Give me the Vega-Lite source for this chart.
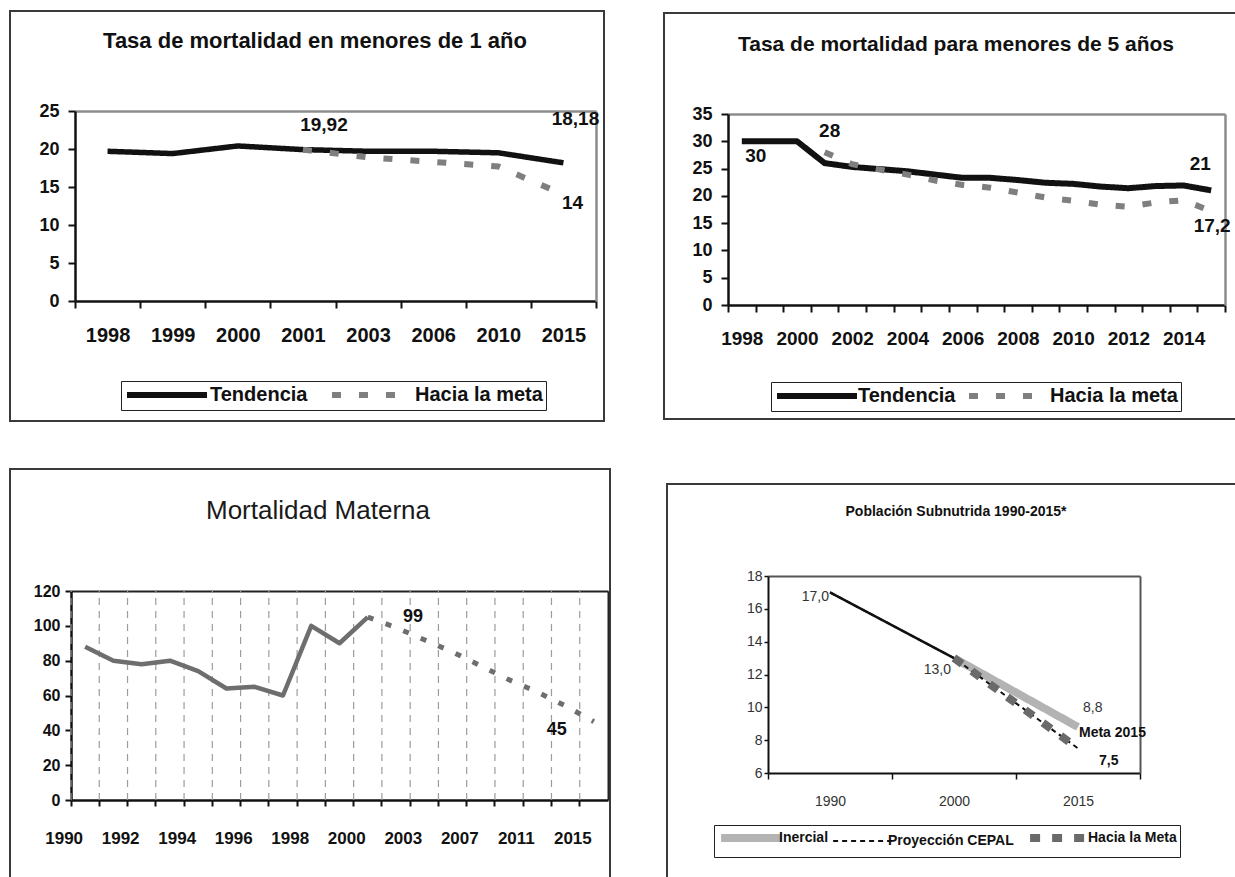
{
  "$schema": "https://vega.github.io/schema/vega-lite/v6.json",
  "background": "white",
  "padding": {"left": 9, "top": 10, "right": 0, "bottom": 0},
  "config": {"view": {"stroke": null}},
  "resolve": {"scale": {"color": "independent", "strokeDash": "independent", "strokeWidth": "independent"}, "legend": {"color": "independent", "strokeDash": "independent", "strokeWidth": "independent"}},
  "datasets": {
    "tmi": [
      {"anio": 1998, "serie": "Tendencia", "valor": 19.7},
      {"anio": 1999, "serie": "Tendencia", "valor": 19.4},
      {"anio": 2000, "serie": "Tendencia", "valor": 20.4},
      {"anio": 2001, "serie": "Tendencia", "valor": 19.92},
      {"anio": 2003, "serie": "Tendencia", "valor": 19.7},
      {"anio": 2006, "serie": "Tendencia", "valor": 19.7},
      {"anio": 2010, "serie": "Tendencia", "valor": 19.5},
      {"anio": 2015, "serie": "Tendencia", "valor": 18.18},
      {"anio": 2001, "serie": "Hacia la meta", "valor": 19.92},
      {"anio": 2003, "serie": "Hacia la meta", "valor": 18.9},
      {"anio": 2006, "serie": "Hacia la meta", "valor": 18.3},
      {"anio": 2010, "serie": "Hacia la meta", "valor": 17.7},
      {"anio": 2015, "serie": "Hacia la meta", "valor": 14}
    ],
    "tm5": [
      {"anio": 1998, "serie": "Tendencia", "valor": 30},
      {"anio": 1999, "serie": "Tendencia", "valor": 30},
      {"anio": 2000, "serie": "Tendencia", "valor": 30},
      {"anio": 2001, "serie": "Tendencia", "valor": 26},
      {"anio": 2002, "serie": "Tendencia", "valor": 25.3},
      {"anio": 2003, "serie": "Tendencia", "valor": 24.9},
      {"anio": 2004, "serie": "Tendencia", "valor": 24.5},
      {"anio": 2005, "serie": "Tendencia", "valor": 23.9},
      {"anio": 2006, "serie": "Tendencia", "valor": 23.3},
      {"anio": 2007, "serie": "Tendencia", "valor": 23.3},
      {"anio": 2008, "serie": "Tendencia", "valor": 22.9},
      {"anio": 2009, "serie": "Tendencia", "valor": 22.4},
      {"anio": 2010, "serie": "Tendencia", "valor": 22.2},
      {"anio": 2011, "serie": "Tendencia", "valor": 21.7},
      {"anio": 2012, "serie": "Tendencia", "valor": 21.4},
      {"anio": 2013, "serie": "Tendencia", "valor": 21.8},
      {"anio": 2014, "serie": "Tendencia", "valor": 21.9},
      {"anio": 2015, "serie": "Tendencia", "valor": 21},
      {"anio": 2001, "serie": "Hacia la meta", "valor": 28},
      {"anio": 2002, "serie": "Hacia la meta", "valor": 25.8},
      {"anio": 2003, "serie": "Hacia la meta", "valor": 24.8},
      {"anio": 2004, "serie": "Hacia la meta", "valor": 23.9},
      {"anio": 2005, "serie": "Hacia la meta", "valor": 22.8},
      {"anio": 2006, "serie": "Hacia la meta", "valor": 22},
      {"anio": 2007, "serie": "Hacia la meta", "valor": 21.5},
      {"anio": 2008, "serie": "Hacia la meta", "valor": 20.6},
      {"anio": 2009, "serie": "Hacia la meta", "valor": 19.7},
      {"anio": 2010, "serie": "Hacia la meta", "valor": 19.1},
      {"anio": 2011, "serie": "Hacia la meta", "valor": 18.4},
      {"anio": 2012, "serie": "Hacia la meta", "valor": 18},
      {"anio": 2013, "serie": "Hacia la meta", "valor": 18.8},
      {"anio": 2014, "serie": "Hacia la meta", "valor": 19.2},
      {"anio": 2015, "serie": "Hacia la meta", "valor": 17.2}
    ],
    "mm": [
      {"anio": 1990, "serie": "Observada", "valor": 88},
      {"anio": 1991, "serie": "Observada", "valor": 80},
      {"anio": 1992, "serie": "Observada", "valor": 78},
      {"anio": 1993, "serie": "Observada", "valor": 80},
      {"anio": 1994, "serie": "Observada", "valor": 74},
      {"anio": 1995, "serie": "Observada", "valor": 64},
      {"anio": 1996, "serie": "Observada", "valor": 65},
      {"anio": 1997, "serie": "Observada", "valor": 60},
      {"anio": 1998, "serie": "Observada", "valor": 100},
      {"anio": 1999, "serie": "Observada", "valor": 90},
      {"anio": 2000, "serie": "Observada", "valor": 105},
      {"anio": 2000, "serie": "Hacia la meta", "valor": 105},
      {"anio": 2001, "serie": "Hacia la meta", "valor": 99},
      {"anio": 2003, "serie": "Hacia la meta", "valor": 92},
      {"anio": 2005, "serie": "Hacia la meta", "valor": 85},
      {"anio": 2007, "serie": "Hacia la meta", "valor": 77},
      {"anio": 2009, "serie": "Hacia la meta", "valor": 69},
      {"anio": 2011, "serie": "Hacia la meta", "valor": 62},
      {"anio": 2013, "serie": "Hacia la meta", "valor": 54},
      {"anio": 2015, "serie": "Hacia la meta", "valor": 45}
    ],
    "sub": [
      {"anio": 2000, "serie": "Inercial", "valor": 13.0},
      {"anio": 2015, "serie": "Inercial", "valor": 8.8},
      {"anio": 1990, "serie": "Proyección CEPAL", "valor": 17.0},
      {"anio": 2000, "serie": "Proyección CEPAL", "valor": 13.0},
      {"anio": 2015, "serie": "Proyección CEPAL", "valor": 7.5},
      {"anio": 2000, "serie": "Hacia la Meta", "valor": 13.0},
      {"anio": 2015, "serie": "Hacia la Meta", "valor": 7.5}
    ]
  },
  "spacing": 46,
  "vconcat": [
    {
      "resolve": {"scale": {"color": "independent", "strokeDash": "independent", "strokeWidth": "independent"}, "legend": {"color": "independent", "strokeDash": "independent", "strokeWidth": "independent"}},
      "hconcat": [
        {
          "width": 594,
          "height": 410,
          "view": {"stroke": "#3a3a3a", "strokeWidth": 2},
          "title": {"text": "Tasa de mortalidad en menores de 1 año", "font": "Liberation Sans, Arial, sans-serif", "fontSize": 22, "fontWeight": "bold", "color": "#111", "baseline": "middle", "offset": -52, "dx": 8},
          "data": {"name": "tmi"},
          "resolve": {"axis": {"x": "independent", "y": "independent"}},
          "layer": [
            {
              "transform": [{"filter": "datum.serie == 'Tendencia'"}],
              "mark": {"type": "line", "strokeWidth": 5.5, "strokeJoin": "round"},
              "encoding": {
                "x": {"field": "anio", "type": "ordinal", "bandPosition": 0.5,
                  "scale": {"type": "band", "domain": [1998, 1999, 2000, 2001, 2003, 2006, 2010, 2015], "range": [65, 586], "paddingInner": 0, "paddingOuter": 0},
                  "axis": {"orient": "bottom", "offset": -120, "title": null, "tickBand": "extent", "grid": false, "domainColor": "#111", "domainWidth": 2.5, "tickColor": "#111", "tickWidth": 2, "tickSize": 7, "labelFont": "Liberation Sans, Arial, sans-serif", "labelFontSize": 20, "labelFontWeight": "bold", "labelColor": "#111", "labelPadding": 17, "labelAngle": 0}},
                "y": {"field": "valor", "type": "quantitative",
                  "scale": {"domain": [0, 25], "range": [290, 100], "nice": false, "zero": false},
                  "axis": {"orient": "left", "offset": -65, "title": null, "values": [0, 5, 10, 15, 20, 25], "grid": false, "domainColor": "#111", "domainWidth": 2.5, "tickColor": "#111", "tickWidth": 2, "tickSize": 7, "labelFont": "Liberation Sans, Arial, sans-serif", "labelFontSize": 18, "labelFontWeight": "bold", "labelColor": "#111", "labelPadding": 9}},
                "color": {"field": "serie", "type": "nominal",
                  "scale": {"domain": ["Tendencia", "Hacia la meta"], "range": ["#111111", "#7f7f7f"]},
                  "legend": {"orient": "none", "legendX": 111, "legendY": 370, "direction": "horizontal", "title": null, "strokeColor": "#222", "padding": 3, "symbolType": "M-1,0H9", "symbolSize": 256, "symbolStrokeWidth": 6, "labelFont": "Liberation Sans, Arial, sans-serif", "labelFontSize": 20, "labelFontWeight": "bold", "labelColor": "#111", "columnPadding": 12, "labelOffset": 64}},
                "strokeDash": {"field": "serie", "type": "nominal",
                  "scale": {"domain": ["Tendencia", "Hacia la meta"], "range": [[1, 0], [9, 18]]}}
              }
            },
            {
              "transform": [{"filter": "datum.serie == 'Hacia la meta'"}],
              "mark": {"type": "line", "strokeWidth": 6, "strokeCap": "butt"},
              "encoding": {
                "x": {"field": "anio", "type": "ordinal", "bandPosition": 0.5,
                  "axis": {"orient": "top", "offset": -100, "title": null, "ticks": false, "labels": false, "grid": false, "domainColor": "#8c8c8c", "domainWidth": 2.5}},
                "y": {"field": "valor", "type": "quantitative",
                  "axis": {"orient": "right", "offset": -8, "title": null, "ticks": false, "labels": false, "grid": false, "domainColor": "#8c8c8c", "domainWidth": 2.5}},
                "color": {"field": "serie", "type": "nominal"},
                "strokeDash": {"field": "serie", "type": "nominal"}
              }
            },
            {
              "data": {"values": [{}]},
              "mark": {"type": "text", "font": "Liberation Sans, Arial, sans-serif", "fontSize": 19, "fontWeight": "bold", "color": "#111", "dx": 21, "dy": -25, "baseline": "middle"},
              "encoding": {"x": {"datum": 2001, "type": "ordinal", "bandPosition": 0.5, "axis": null}, "y": {"datum": 19.92, "type": "quantitative", "axis": null}, "text": {"value": "19,92"}}
            },
            {
              "data": {"values": [{}]},
              "mark": {"type": "text", "font": "Liberation Sans, Arial, sans-serif", "fontSize": 19, "fontWeight": "bold", "color": "#111", "dx": 12, "dy": -44, "baseline": "middle"},
              "encoding": {"x": {"datum": 2015, "type": "ordinal", "bandPosition": 0.5, "axis": null}, "y": {"datum": 18.18, "type": "quantitative", "axis": null}, "text": {"value": "18,18"}}
            },
            {
              "data": {"values": [{}]},
              "mark": {"type": "text", "font": "Liberation Sans, Arial, sans-serif", "fontSize": 19, "fontWeight": "bold", "color": "#111", "dx": 9, "dy": 8, "baseline": "middle"},
              "encoding": {"x": {"datum": 2015, "type": "ordinal", "bandPosition": 0.5, "axis": null}, "y": {"datum": 14, "type": "quantitative", "axis": null}, "text": {"value": "14"}}
            }
          ]
        },
        {
          "width": 572,
          "height": 406,
          "view": {"stroke": "#3a3a3a", "strokeWidth": 2},
          "title": {"text": "Tasa de mortalidad para menores de 5 años", "font": "Liberation Sans, Arial, sans-serif", "fontSize": 21, "fontWeight": "bold", "color": "#111", "baseline": "middle", "offset": -53, "dx": 6},
          "data": {"name": "tm5"},
          "resolve": {"axis": {"x": "independent", "y": "independent"}},
          "layer": [
            {
              "transform": [{"filter": "datum.serie == 'Tendencia'"}],
              "mark": {"type": "line", "strokeWidth": 6, "strokeJoin": "round"},
              "encoding": {
                "x": {"field": "anio", "type": "ordinal", "bandPosition": 0.5,
                  "scale": {"type": "band", "domain": [1998, 1999, 2000, 2001, 2002, 2003, 2004, 2005, 2006, 2007, 2008, 2009, 2010, 2011, 2012, 2013, 2014, 2015], "range": [64, 561], "paddingInner": 0, "paddingOuter": 0},
                  "axis": {"orient": "bottom", "offset": -114, "title": null, "tickBand": "extent", "grid": false, "labelExpr": "datum.value % 2 == 0 ? datum.label : ''", "domainColor": "#111", "domainWidth": 2.5, "tickColor": "#111", "tickWidth": 2, "tickSize": 7, "labelFont": "Liberation Sans, Arial, sans-serif", "labelFontSize": 19, "labelFontWeight": "bold", "labelColor": "#111", "labelPadding": 17, "labelAngle": 0}},
                "y": {"field": "valor", "type": "quantitative",
                  "scale": {"domain": [0, 35], "range": [292, 101], "nice": false, "zero": false},
                  "axis": {"orient": "left", "offset": -64, "title": null, "values": [0, 5, 10, 15, 20, 25, 30, 35], "grid": false, "domainColor": "#111", "domainWidth": 2.5, "tickColor": "#111", "tickWidth": 2, "tickSize": 7, "labelFont": "Liberation Sans, Arial, sans-serif", "labelFontSize": 18, "labelFontWeight": "bold", "labelColor": "#111", "labelPadding": 9}},
                "color": {"field": "serie", "type": "nominal",
                  "scale": {"domain": ["Tendencia", "Hacia la meta"], "range": ["#111111", "#7f7f7f"]},
                  "legend": {"orient": "none", "legendX": 107, "legendY": 369, "direction": "horizontal", "title": null, "strokeColor": "#222", "padding": 3, "symbolType": "M-1,0H9", "symbolSize": 256, "symbolStrokeWidth": 6, "labelFont": "Liberation Sans, Arial, sans-serif", "labelFontSize": 20, "labelFontWeight": "bold", "labelColor": "#111", "columnPadding": 1, "labelOffset": 62}},
                "strokeDash": {"field": "serie", "type": "nominal",
                  "scale": {"domain": ["Tendencia", "Hacia la meta"], "range": [[1, 0], [9, 18]]}}
              }
            },
            {
              "transform": [{"filter": "datum.serie == 'Hacia la meta'"}],
              "mark": {"type": "line", "strokeWidth": 6, "strokeCap": "butt"},
              "encoding": {
                "x": {"field": "anio", "type": "ordinal", "bandPosition": 0.5,
                  "axis": {"orient": "top", "offset": -101, "title": null, "ticks": false, "labels": false, "grid": false, "domainColor": "#8c8c8c", "domainWidth": 2.5}},
                "y": {"field": "valor", "type": "quantitative",
                  "axis": {"orient": "right", "offset": -11, "title": null, "ticks": false, "labels": false, "grid": false, "domainColor": "#8c8c8c", "domainWidth": 2.5}},
                "color": {"field": "serie", "type": "nominal"},
                "strokeDash": {"field": "serie", "type": "nominal"}
              }
            },
            {
              "data": {"values": [{}]},
              "mark": {"type": "text", "font": "Liberation Sans, Arial, sans-serif", "fontSize": 19, "fontWeight": "bold", "color": "#111", "dx": 14, "dy": 15, "baseline": "middle"},
              "encoding": {"x": {"datum": 1998, "type": "ordinal", "bandPosition": 0.5, "axis": null}, "y": {"datum": 30, "type": "quantitative", "axis": null}, "text": {"value": "30"}}
            },
            {
              "data": {"values": [{}]},
              "mark": {"type": "text", "font": "Liberation Sans, Arial, sans-serif", "fontSize": 19, "fontWeight": "bold", "color": "#111", "dx": 5, "dy": -21, "baseline": "middle"},
              "encoding": {"x": {"datum": 2001, "type": "ordinal", "bandPosition": 0.5, "axis": null}, "y": {"datum": 28, "type": "quantitative", "axis": null}, "text": {"value": "28"}}
            },
            {
              "data": {"values": [{}]},
              "mark": {"type": "text", "font": "Liberation Sans, Arial, sans-serif", "fontSize": 19, "fontWeight": "bold", "color": "#111", "dx": -11, "dy": -26, "baseline": "middle"},
              "encoding": {"x": {"datum": 2015, "type": "ordinal", "bandPosition": 0.5, "axis": null}, "y": {"datum": 21, "type": "quantitative", "axis": null}, "text": {"value": "21"}}
            },
            {
              "data": {"values": [{}]},
              "mark": {"type": "text", "font": "Liberation Sans, Arial, sans-serif", "fontSize": 19, "fontWeight": "bold", "color": "#111", "dx": 1, "dy": 15, "baseline": "middle"},
              "encoding": {"x": {"datum": 2015, "type": "ordinal", "bandPosition": 0.5, "axis": null}, "y": {"datum": 17.2, "type": "quantitative", "axis": null}, "text": {"value": "17,2"}}
            }
          ]
        }
      ],
      "spacing": 58,
      "center": true
    },
    {
      "resolve": {"scale": {"color": "independent", "strokeDash": "independent", "strokeWidth": "independent"}, "legend": {"color": "independent", "strokeDash": "independent", "strokeWidth": "independent"}},
      "hconcat": [
        {
          "width": 600,
          "height": 430,
          "view": {"stroke": "#3a3a3a", "strokeWidth": 2},
          "title": {"text": "Mortalidad Materna", "font": "Liberation Sans, Arial, sans-serif", "fontSize": 26, "fontWeight": "normal", "color": "#1a1a1a", "baseline": "middle", "offset": -68, "dx": 8},
          "data": {"name": "mm"},
          "resolve": {"axis": {"x": "independent", "y": "independent"}},
          "layer": [
            {
              "transform": [{"filter": "datum.serie == 'Observada' || datum.anio > 2000"}],
              "mark": {"type": "rule", "color": "#9c9c9c", "strokeDash": [7, 6], "strokeWidth": 1.2},
              "encoding": {
                "x": {"field": "anio", "type": "ordinal", "bandPosition": 0, "axis": null},
                "y": {"datum": 0, "type": "quantitative", "axis": null},
                "y2": {"datum": 120}
              }
            },
            {
              "transform": [{"filter": "datum.serie == 'Observada'"}],
              "mark": {"type": "line", "color": "#6e6e6e", "strokeWidth": 4.5, "strokeJoin": "round"},
              "encoding": {
                "x": {"field": "anio", "type": "ordinal", "bandPosition": 0.5,
                  "scale": {"type": "band", "domain": [1990, 1991, 1992, 1993, 1994, 1995, 1996, 1997, 1998, 1999, 2000, 2001, 2003, 2005, 2007, 2009, 2011, 2013, 2015], "range": [61, 598], "paddingInner": 0, "paddingOuter": 0},
                  "axis": {"orient": "bottom", "offset": -99, "title": null, "bandPosition": 0, "grid": false, "labelExpr": "indexof([1990,1992,1994,1996,1998,2000,2003,2007,2011,2015], datum.value) >= 0 ? datum.label : ''", "labelOffset": -21, "domainColor": "#111", "domainWidth": 2.5, "tickColor": "#111", "tickWidth": 2, "tickSize": 6, "labelFont": "Liberation Sans, Arial, sans-serif", "labelFontSize": 17, "labelFontWeight": "bold", "labelColor": "#111", "labelPadding": 24, "labelAngle": 0}},
                "y": {"field": "valor", "type": "quantitative",
                  "scale": {"domain": [0, 120], "range": [331, 122], "nice": false, "zero": false},
                  "axis": {"orient": "left", "offset": -61, "title": null, "values": [0, 20, 40, 60, 80, 100, 120], "grid": false, "domainColor": "#111", "domainWidth": 2.5, "tickColor": "#111", "tickWidth": 2, "tickSize": 6, "labelFont": "Liberation Sans, Arial, sans-serif", "labelFontSize": 16, "labelFontWeight": "bold", "labelColor": "#111", "labelPadding": 5}}
              }
            },
            {
              "transform": [{"filter": "datum.serie == 'Hacia la meta'"}],
              "mark": {"type": "line", "color": "#6e6e6e", "strokeWidth": 5, "strokeDash": [6, 13], "strokeCap": "butt"},
              "encoding": {
                "x": {"field": "anio", "type": "ordinal", "bandPosition": 0.5,
                  "axis": {"orient": "top", "offset": -122, "title": null, "ticks": false, "labels": false, "grid": false, "domainColor": "#222", "domainWidth": 2}},
                "y": {"field": "valor", "type": "quantitative",
                  "axis": {"orient": "right", "offset": -2, "title": null, "ticks": false, "labels": false, "grid": false, "domainColor": "#222", "domainWidth": 2}}
              }
            },
            {
              "data": {"values": [{}]},
              "mark": {"type": "text", "font": "Liberation Sans, Arial, sans-serif", "fontSize": 18, "fontWeight": "bold", "color": "#111", "dx": 17, "dy": -11, "baseline": "middle"},
              "encoding": {"x": {"datum": 2001, "type": "ordinal", "bandPosition": 0.5, "axis": null}, "y": {"datum": 99, "type": "quantitative", "axis": null}, "text": {"value": "99"}}
            },
            {
              "data": {"values": [{}]},
              "mark": {"type": "text", "font": "Liberation Sans, Arial, sans-serif", "fontSize": 18, "fontWeight": "bold", "color": "#111", "dx": -37, "dy": 8, "baseline": "middle"},
              "encoding": {"x": {"datum": 2015, "type": "ordinal", "bandPosition": 0.5, "axis": null}, "y": {"datum": 45, "type": "quantitative", "axis": null}, "text": {"value": "45"}}
            }
          ]
        },
        {
          "width": 576,
          "height": 400,
          "view": {"stroke": "#3a3a3a", "strokeWidth": 2},
          "title": {"text": "Población Subnutrida 1990-2015*", "font": "Liberation Sans, Arial, sans-serif", "fontSize": 14, "fontWeight": "bold", "color": "#111", "baseline": "middle", "offset": -42, "dx": 1},
          "data": {"name": "sub"},
          "resolve": {"axis": {"x": "independent", "y": "independent"}},
          "layer": [
            {
              "mark": {"type": "line", "strokeCap": "butt"},
              "encoding": {
                "x": {"field": "anio", "type": "ordinal", "bandPosition": 0.5,
                  "scale": {"type": "band", "domain": [1990, 2000, 2015], "range": [101, 473], "paddingInner": 0, "paddingOuter": 0},
                  "axis": {"orient": "bottom", "offset": -111, "title": null, "tickBand": "extent", "grid": false, "domainColor": "#111", "domainWidth": 2, "tickColor": "#111", "tickWidth": 1.5, "tickSize": 6, "labelFont": "Liberation Sans, Arial, sans-serif", "labelFontSize": 14, "labelColor": "#333", "labelPadding": 15, "labelAngle": 0}},
                "y": {"field": "valor", "type": "quantitative",
                  "scale": {"domain": [6, 18], "range": [289, 92], "nice": false, "zero": false},
                  "axis": {"orient": "left", "offset": -101, "title": null, "values": [6, 8, 10, 12, 14, 16, 18], "grid": false, "domainColor": "#111", "domainWidth": 2, "tickColor": "#111", "tickWidth": 1.5, "tickSize": 4, "labelFont": "Liberation Sans, Arial, sans-serif", "labelFontSize": 14, "labelColor": "#333", "labelPadding": 2}},
                "color": {"field": "serie", "type": "nominal",
                  "scale": {"domain": ["Inercial", "Proyección CEPAL", "Hacia la Meta"], "range": ["#b3b3b3", "#111111", "#6a6a6a"]},
                  "legend": {"orient": "none", "legendX": 47, "legendY": 341, "direction": "horizontal", "title": null, "strokeColor": "#222", "padding": 3, "symbolType": "M-1,0H9", "symbolSize": 139, "labelFont": "Liberation Sans, Arial, sans-serif", "labelFontSize": 14, "labelFontWeight": "bold", "labelColor": "#111", "columnPadding": 0, "labelOffset": 42}},
                "strokeDash": {"field": "serie", "type": "nominal",
                  "scale": {"domain": ["Inercial", "Proyección CEPAL", "Hacia la Meta"], "range": [[1, 0], [5, 4], [10, 12]]}},
                "strokeWidth": {"field": "serie", "type": "nominal",
                  "scale": {"type": "ordinal", "domain": ["Inercial", "Proyección CEPAL", "Hacia la Meta"], "range": [8, 2, 8]}}
              }
            },
            {
              "transform": [{"filter": "datum.serie == 'Proyección CEPAL' && datum.anio <= 2000"}],
              "mark": {"type": "line", "color": "#111", "strokeWidth": 2.5},
              "encoding": {
                "x": {"field": "anio", "type": "ordinal", "bandPosition": 0.5,
                  "axis": {"orient": "top", "offset": -92, "title": null, "ticks": false, "labels": false, "grid": false, "domainColor": "#555", "domainWidth": 2}},
                "y": {"field": "valor", "type": "quantitative",
                  "axis": {"orient": "right", "offset": -103, "title": null, "ticks": false, "labels": false, "grid": false, "domainColor": "#555", "domainWidth": 2}}
              }
            },
            {
              "data": {"values": [{}]},
              "mark": {"type": "text", "font": "Liberation Sans, Arial, sans-serif", "fontSize": 14, "color": "#333", "align": "right", "dx": -1, "dy": 5, "baseline": "middle"},
              "encoding": {"x": {"datum": 1990, "type": "ordinal", "bandPosition": 0.5, "axis": null}, "y": {"datum": 17, "type": "quantitative", "axis": null}, "text": {"value": "17,0"}}
            },
            {
              "data": {"values": [{}]},
              "mark": {"type": "text", "font": "Liberation Sans, Arial, sans-serif", "fontSize": 14, "color": "#333", "align": "right", "dx": -3, "dy": 12, "baseline": "middle"},
              "encoding": {"x": {"datum": 2000, "type": "ordinal", "bandPosition": 0.5, "axis": null}, "y": {"datum": 13, "type": "quantitative", "axis": null}, "text": {"value": "13,0"}}
            },
            {
              "data": {"values": [{}]},
              "mark": {"type": "text", "font": "Liberation Sans, Arial, sans-serif", "fontSize": 14, "color": "#333", "align": "left", "dx": 5, "dy": -19, "baseline": "middle"},
              "encoding": {"x": {"datum": 2015, "type": "ordinal", "bandPosition": 0.5, "axis": null}, "y": {"datum": 8.8, "type": "quantitative", "axis": null}, "text": {"value": "8,8"}}
            },
            {
              "data": {"values": [{}]},
              "mark": {"type": "text", "font": "Liberation Sans, Arial, sans-serif", "fontSize": 14, "fontWeight": "bold", "color": "#111", "align": "left", "dx": 1, "dy": 6, "baseline": "middle"},
              "encoding": {"x": {"datum": 2015, "type": "ordinal", "bandPosition": 0.5, "axis": null}, "y": {"datum": 8.8, "type": "quantitative", "axis": null}, "text": {"value": "Meta 2015"}}
            },
            {
              "data": {"values": [{}]},
              "mark": {"type": "text", "font": "Liberation Sans, Arial, sans-serif", "fontSize": 14, "fontWeight": "bold", "color": "#111", "align": "left", "dx": 21, "dy": 13, "baseline": "middle"},
              "encoding": {"x": {"datum": 2015, "type": "ordinal", "bandPosition": 0.5, "axis": null}, "y": {"datum": 7.5, "type": "quantitative", "axis": null}, "text": {"value": "7,5"}}
            }
          ]
        }
      ],
      "spacing": 55,
      "center": true
    }
  ]
}
